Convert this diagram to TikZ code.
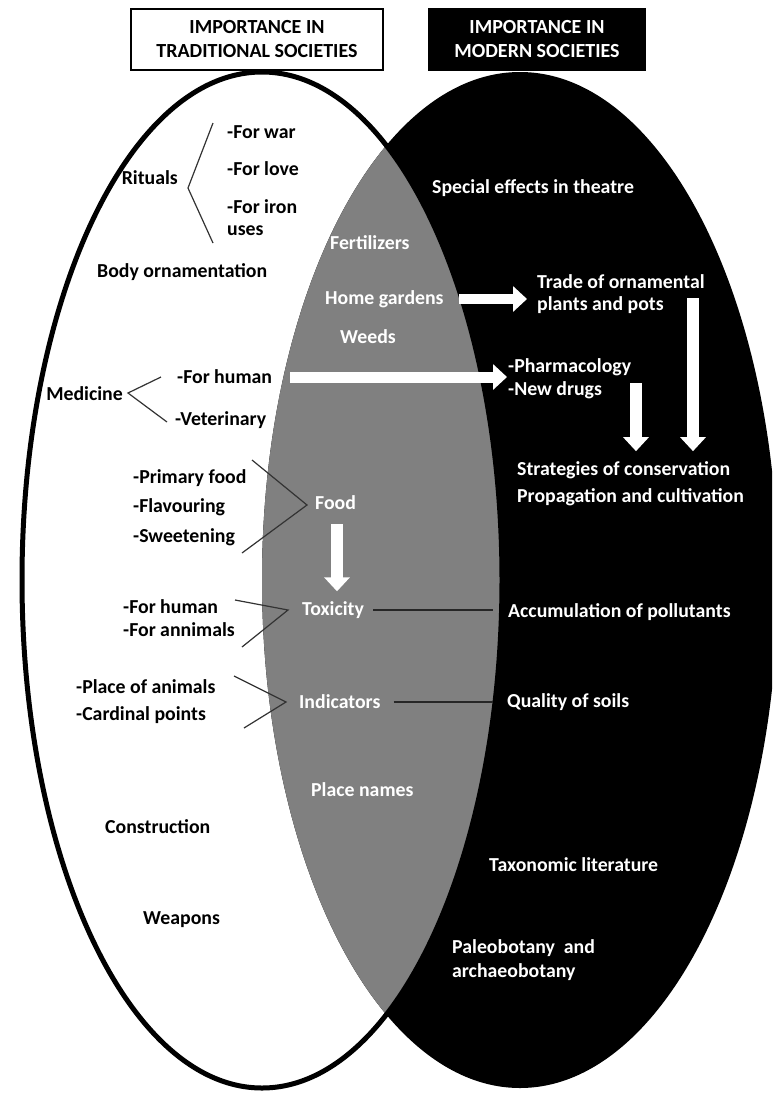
\documentclass[tikz,border=0pt]{standalone}
\usepackage{fontspec}
\setmainfont{Carlito}
\usetikzlibrary{arrows.meta,calc}
\definecolor{midgray}{RGB}{128,128,128}
\begin{document}
\begin{tikzpicture}[x=1pt,y=-1pt,
  txt/.style={font=\bfseries\fontsize{19.8}{24}\selectfont, inner sep=0pt},
  dk/.style={txt, text=black, anchor=west},
  wt/.style={txt, text=white, anchor=west},
  header/.style={font=\bfseries\fontsize{20}{24}\selectfont, inner sep=0pt, draw=black, line width=2.5pt, align=center, minimum height=61pt},
  brk/.style={draw=black!80, line width=1.2pt},
  conn/.style={draw=black!85, line width=1.5pt},
  blockarrow/.style={draw=white, line width=#1, -{Triangle[width=25pt,length=14pt]}},
]
\useasboundingbox (0,0) rectangle (772,1093);
\fill[white] (0,0) rectangle (772,1093);

% Venn ellipses
\begin{scope}
  \clip (0,0) rectangle (772,1093);
  \fill[white] (262,580) ellipse [x radius=240pt, y radius=508pt];
  \fill[black] (520,580) ellipse [x radius=258pt, y radius=508pt];
  \begin{scope}
    \clip (262,580) ellipse [x radius=240pt, y radius=508pt];
    \fill[midgray] (520,580) ellipse [x radius=258pt, y radius=508pt];
  \end{scope}
  \draw[line width=5pt] (262,580) ellipse [x radius=240pt, y radius=508pt];
\end{scope}

% headers
\node[header, fill=white, text=black, minimum width=252pt] (hleft) at (257,39.5) {IMPORTANCE IN\\TRADITIONAL SOCIETIES};
\node[header, fill=black, text=white, minimum width=216pt] (hright) at (537,39.5) {IMPORTANCE IN\\MODERN SOCIETIES};

% left (traditional) labels
\node[txt, anchor=east] (rituals) at (178,178) {Rituals};
\node[dk] (forwar) at (227,132) {-For war};
\node[dk] (forlove) at (227,169) {-For love};
\node[dk] (foriron) at (227,207) {-For iron};
\node[dk] (uses) at (227,231) {uses};
\node[dk] (body) at (97,272) {Body ornamentation};
\node[txt, anchor=east] (medicine) at (123,394) {Medicine};
\node[dk] (forhumanM) at (177,377) {-For human};
\node[dk] (vet) at (175,420) {-Veterinary};
\node[dk] (primary) at (133,478) {-Primary food};
\node[dk] (flav) at (133,507) {-Flavouring};
\node[dk] (sweet) at (133,537) {-Sweetening};
\node[dk] (forhumanT) at (123,607) {-For human};
\node[dk] (annimals) at (123,630) {-For annimals};
\node[dk] (placeanim) at (76,687) {-Place of animals};
\node[dk] (cardinal) at (76,715) {-Cardinal points};
\node[dk] (construction) at (105,827) {Construction};
\node[dk] (weapons) at (143,920) {Weapons};

% intersection labels
\node[wt] (fert) at (330,243) {Fertilizers};
\node[wt] (home) at (325,299) {Home gardens};
\node[wt] (weeds) at (340,337) {Weeds};
\node[wt] (food) at (315,503) {Food};
\node[wt] (tox) at (302,610) {Toxicity};
\node[wt] (indic) at (299,702) {Indicators};
\node[wt] (placenames) at (311,790) {Place names};

% right (modern) labels
\node[wt] (special) at (432,188) {Special effects in theatre};
\node[wt] (trade) at (537,282) {Trade of ornamental};
\node[wt] (plants) at (537,305) {plants and pots};
\node[wt] (pharma) at (508,367) {-Pharmacology};
\node[wt] (newdrugs) at (508,390) {-New drugs};
\node[wt] (strat) at (517,470) {Strategies of conservation};
\node[wt] (prop) at (517,497) {Propagation and cultivation};
\node[wt] (accum) at (508,612) {Accumulation of pollutants};
\node[wt] (quality) at (507,702) {Quality of soils};
\node[wt] (taxo) at (489,865) {Taxonomic literature};
\node[wt] (paleo) at (452,948) {Paleobotany\ \ and};
\node[wt] (archaeo) at (452,972) {archaeobotany};

% brackets
\coordinate (ritV) at (188,188);
\draw[brk] (213,123) coordinate (ritA) -- (ritV) -- (213,243) coordinate (ritB);
\coordinate (medV) at (128,393);
\draw[brk] (161,377) coordinate (medA) -- (medV) -- (167,422) coordinate (medB);
\coordinate (foodV) at (307,505);
\draw[brk] (252,460) coordinate (foodA) -- (foodV) -- (242,553) coordinate (foodB);
\coordinate (toxV) at (288,610);
\draw[brk] (235,600) coordinate (toxA) -- (toxV) -- (242,647) coordinate (toxB);
\coordinate (indV) at (286,702);
\draw[brk] (234,676) coordinate (indA) -- (indV) -- (244,728) coordinate (indB);

% connecting lines
\draw[conn, shorten <=9pt, shorten >=15pt] (tox.east) -- (tox.east -| accum.west);
\draw[conn, shorten <=13pt, shorten >=14pt] (indic.east) -- (indic.east -| quality.west);

% block arrows
\draw[blockarrow=10pt, shorten <=15pt, shorten >=10pt] (home.east) -- (home.east -| trade.west);
\draw[blockarrow=11pt, shorten <=18pt, shorten >=1pt] (forhumanM.east) -- (forhumanM.east -| pharma.west);
\draw[blockarrow=12pt, shorten <=14pt, shorten >=10pt] (food.south -| 337,0) -- (tox.north -| 337,0);
\coordinate (pharmDown) at (636,383);
\draw[blockarrow=12pt, shorten >=10pt] (pharmDown) -- (pharmDown |- strat.north);
\coordinate (tradeDown) at (693,298);
\draw[blockarrow=12pt, shorten >=10pt] (tradeDown) -- (tradeDown |- strat.north);
\end{tikzpicture}
\end{document}
